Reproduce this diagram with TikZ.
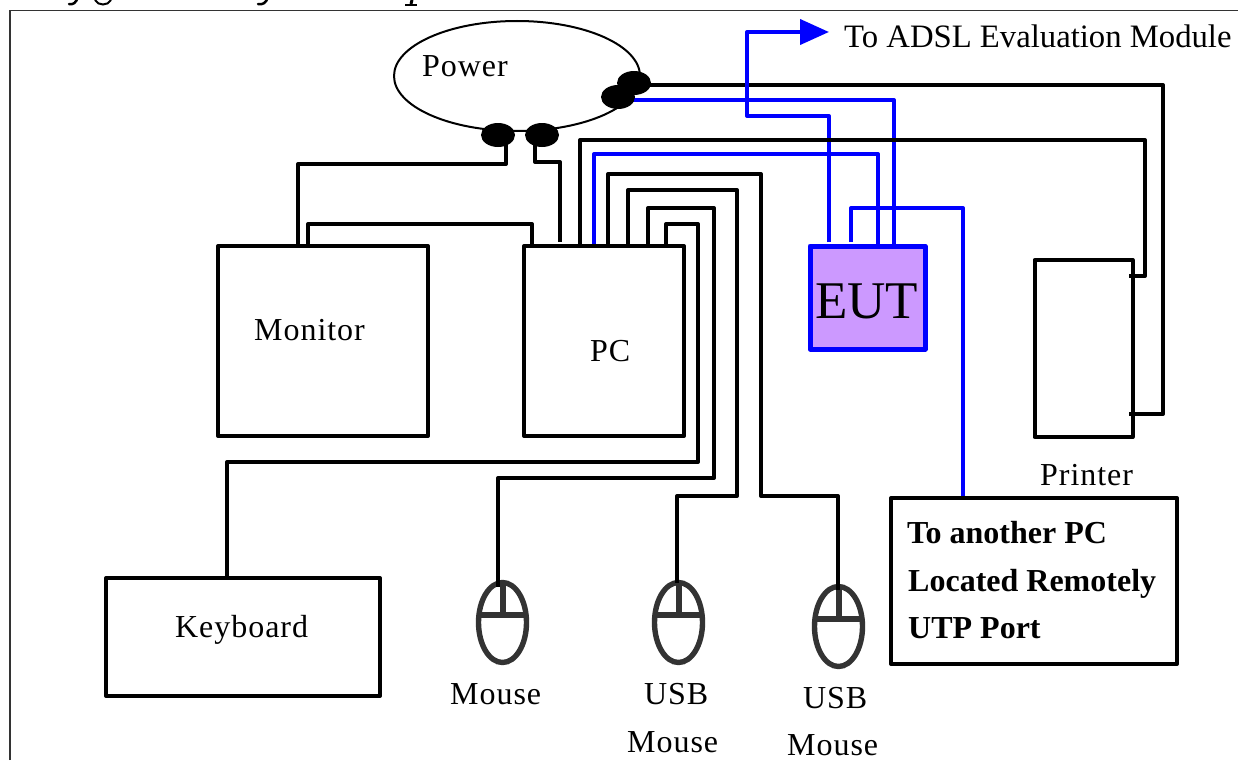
\documentclass[tikz,border=0pt]{standalone}
\usepackage{fontspec}
\setmainfont{Liberation Serif}
\newfontfamily\spacedfont[LetterSpace=3]{Liberation Serif}
\usetikzlibrary{arrows.meta,shapes.geometric}
\definecolor{wireblue}{RGB}{0,0,255}
\definecolor{eutfill}{RGB}{204,153,255}
\definecolor{mousegray}{RGB}{51,51,51}
\begin{document}
\begin{tikzpicture}[x=1pt,y=-1pt,
  wire/.style={line width=4pt,line join=round,draw=black},
  bwire/.style={line width=4pt,line join=round,draw=wireblue},
  boxn/.style={rectangle,draw=black,line width=4pt,line join=round,fill=white,inner sep=0pt,outer sep=0pt},
  eutbox/.style={rectangle,draw=wireblue,line width=5pt,line join=round,fill=eutfill,inner sep=0pt,outer sep=0pt},
  lbl/.style={font=\fontsize{32}{36}\spacedfont,inner sep=0pt,anchor=base west,text=black},
  plain/.style={font=\fontsize{32.7}{36}\selectfont,inner sep=0pt,anchor=base west,text=black},
  bold/.style={font=\fontsize{32}{36}\selectfont\bfseries,inner sep=0pt,anchor=base west,text=black},
  plug/.style={ellipse,fill=black,minimum width=34pt,minimum height=24pt,inner sep=0pt,outer sep=0pt},
  mouseb/.style={ellipse,draw=mousegray,line width=5.4pt,fill=white,minimum width=48pt,minimum height=80pt,inner sep=0pt,outer sep=0pt},
  mline/.style={line width=5.4pt,draw=mousegray}]
\useasboundingbox (0,0) rectangle (1238,760);
\fill[white] (0,0) rectangle (1238,760);
% frame
\draw[line width=1.8pt,mousegray] (10,760) -- (10,10.5) -- (1238,10.5);
% clipped remains of the cut-off heading
\begin{scope}
\clip (0,0) rectangle (1238,6);
\draw[line width=2.5pt,line cap=round] (78,-3) .. controls (76,3) and (73,5) .. (69,4);
\draw[line width=2pt] (95,0) .. controls (98,6) and (108,6) .. (111,0);
\draw[line width=2.5pt,line cap=round] (268,-3) .. controls (266,3) and (263,5) .. (258,4);
\draw[line width=3pt] (412,0) -- (411,4);
\draw[line width=1.5pt] (405,5) -- (417,5);
\end{scope}
% named ports
\coordinate (monA) at (298,246);
\coordinate (monB) at (308,246);
\coordinate (pcA) at (532,246);
\coordinate (pcB) at (560,242);
\coordinate (pcC) at (580,246);
\coordinate (pcD) at (594,246);
\coordinate (pcE) at (608,246);
\coordinate (pcF) at (628,246);
\coordinate (pcG) at (648,246);
\coordinate (pcH) at (666,246);
\coordinate (eutA) at (829,242);
\coordinate (eutB) at (851,242);
\coordinate (eutC) at (878,246);
\coordinate (eutD) at (894,246);
\coordinate (prA) at (1129,276);
\coordinate (prB) at (1129,414);
\coordinate (utpT) at (963,498);
\coordinate (adsl) at (829,32);
\coordinate (kbT) at (227,578);
\coordinate (mA) at (498,587);
\coordinate (mB) at (677,583);
\coordinate (mC) at (838,590);
% power
\node[ellipse,draw=black,line width=2pt,fill=white,minimum width=246pt,minimum height=110pt,inner sep=0pt,outer sep=0pt] (power) at (517,76) {};
\coordinate (pA) at (506,135);
\coordinate (pB) at (535,135);
\coordinate (pC) at (634,85);
\coordinate (pD) at (618,100);
% wires behind blue
\draw[wire] (pC) -- (1163,85) -- (1163,414) -- (prB);
% blue wires
\draw[bwire] (pD) -- (894,100) -- (eutD);
\draw[bwire] (pcD) -- (594,154) -- (878,154) -- (eutC);
\draw[bwire] (eutB) -- (851,208) -- (963,208) -- (utpT);
\draw[bwire,-{Triangle[length=29pt,width=25pt]}] (eutA) -- (829,116) -- (747,116) -- (747,32) -- (adsl);
% black wires
\draw[wire] (pA) -- (506,164) -- (298,164) -- (monA);
\draw[wire] (pB) -- (535,162) -- (560,162) -- (pcB);
\draw[wire] (monB) -- (308,224) -- (532,224) -- (pcA);
\draw[wire] (pcC) -- (580,140) -- (1145,140) -- (1145,276) -- (prA);
\draw[wire] (pcE) -- (608,174) -- (761,174) -- (761,496) -- (838,496) -- (mC);
\draw[wire] (pcF) -- (628,190) -- (737,190) -- (737,496) -- (677,496) -- (mB);
\draw[wire] (pcG) -- (648,208) -- (714,208) -- (714,478) -- (498,478) -- (mA);
\draw[wire] (pcH) -- (666,224) -- (698,224) -- (698,462) -- (227,462) -- (kbT);
% plugs
\node[plug] (plugA) at (498,135) {};
\node[plug] (plugB) at (542,135) {};
\node[plug] (plugC) at (634,83) {};
\node[plug] (plugD) at (618,97) {};
% boxes
\node[boxn,minimum width=210pt,minimum height=190pt] (monitor) at (323,341) {};
\node[boxn,minimum width=160pt,minimum height=190pt] (pc) at (604,341) {};
\node[eutbox,minimum width=115pt,minimum height=103pt] (eut) at (867.5,297.5) {};
\node[boxn,minimum width=98pt,minimum height=177pt] (printer) at (1083.5,348.5) {};
\node[boxn,minimum width=286pt,minimum height=166pt] (utp) at (1034,581) {};
\node[boxn,minimum width=274pt,minimum height=118pt] (keyboard) at (243,637) {};
\draw[wire] (prA) -- (1135,276);
\draw[wire] (prB) -- (1135,414);
% mice
\node[mouseb] (mouseA) at (502.5,622.5) {};
\draw[mline] (mouseA.west) ++(0,-7.5) -- ++(48,0);
\draw[mline] (503,582) -- (503,615);
\node[mouseb] (mouseB) at (678.5,622.5) {};
\draw[mline] (mouseB.west) ++(0,-7.5) -- ++(48,0);
\draw[mline] (679,582) -- (679,615);
\node[mouseb] (mouseC) at (838.5,626.5) {};
\draw[mline] (mouseC.west) ++(0,-7.5) -- ++(48,0);
\draw[mline] (839,586) -- (839,619);
\draw[wire] (498,575) -- (mA);
\draw[wire] (677,575) -- (mB);
\draw[wire] (838,575) -- (mC);
% labels
\node[lbl] (tPower) at (422,76) {Power};
\node[plain] (tAdsl) at (844,48) {To ADSL Evaluation Module};
\node[lbl] (tMon) at (254,340) {Monitor};
\node[lbl] (tPc) at (590,361) {PC};
\node[font=\fontsize{53}{60}\selectfont,inner sep=0pt,anchor=base west] (tEut) at (815,318) {EUT};
\node[lbl] (tPrinter) at (1040,485) {Printer};
\node[bold] (tUa) at (907,543) {To another PC};
\node[bold] (tUb) at (908,591) {Located Remotely};
\node[bold] (tUc) at (908,638) {UTP Port};
\node[lbl] (tKey) at (175,637) {Keyboard};
\node[lbl] (tMa) at (450,704) {Mouse};
\node[lbl] (tUsbB) at (644,704) {USB};
\node[lbl] (tMb) at (627,752) {Mouse};
\node[lbl] (tUsbC) at (803,708) {USB};
\node[lbl] (tMc) at (787,755) {Mouse};
\end{tikzpicture}
\end{document}
